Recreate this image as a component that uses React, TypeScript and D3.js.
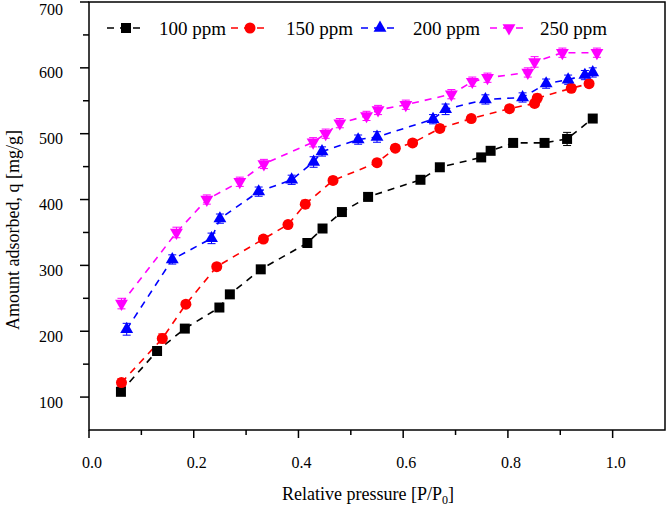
import React from "react";
import * as d3 from "d3";

const W = 666;
const H = 510;

const xTicksMajor = [0, 0.2, 0.4, 0.6, 0.8, 1.0];
const xTicksMinor = [0.1, 0.3, 0.5, 0.7, 0.9];
const xTickLabels = ["0.0", "0.2", "0.4", "0.6", "0.8", "1.0"];
const yTicksMajor = [100, 200, 300, 400, 500, 600, 700];
const yTicksMinor = [150, 250, 350, 450, 550, 650];

const seriesNames = ["100 ppm", "150 ppm", "200 ppm", "250 ppm"];
const seriesColors = ["#000000", "#ff0000", "#0000ff", "#ff00ff"];
const seriesSymbols = ["square", "circle", "triangle", "down"];

const x100 = [0.061, 0.130, 0.183, 0.249, 0.269, 0.328, 0.417, 0.446, 0.483, 0.533, 0.633, 0.670, 0.749, 0.767, 0.810, 0.870, 0.913, 0.962];
const y100 = [108, 170, 204, 236, 256, 294, 334, 356, 381, 404, 430, 449, 464, 474, 486, 486, 492, 523];
const e100 = [3, 3, 3, 3, 4, 3, 4, 3, 3, 3, 4, 3, 4, 3, 3, 4, 10, 4];

const x150 = [0.062, 0.140, 0.185, 0.244, 0.333, 0.380, 0.413, 0.466, 0.550, 0.585, 0.618, 0.670, 0.730, 0.803, 0.851, 0.856, 0.921, 0.955];
const y150 = [122, 189, 241, 298, 340, 362, 393, 429, 456, 478, 486, 508, 523, 538, 546, 554, 569, 576];
const e150 = [6, 7, 5, 5, 5, 5, 6, 5, 5, 5, 5, 5, 5, 5, 5, 6, 5, 5];

const x200 = [0.072, 0.159, 0.234, 0.250, 0.324, 0.387, 0.429, 0.445, 0.514, 0.550, 0.657, 0.681, 0.757, 0.828, 0.873, 0.915, 0.947, 0.962];
const y200 = [203, 309, 341, 371, 412, 430, 457, 473, 491, 495, 522, 537, 552, 555, 576, 582, 589, 593];
const e200 = [9, 7, 8, 7, 7, 7, 8, 7, 7, 8, 7, 8, 7, 7, 7, 7, 7, 7];

const x250 = [0.062, 0.167, 0.225, 0.288, 0.334, 0.428, 0.452, 0.479, 0.530, 0.552, 0.605, 0.692, 0.732, 0.761, 0.838, 0.851, 0.904, 0.970];
const y250 = [242, 350, 400, 427, 454, 487, 500, 516, 527, 536, 544, 560, 579, 585, 593, 609, 623, 623];
const e250 = [8, 8, 7, 7, 7, 7, 7, 7, 7, 7, 7, 7, 7, 7, 7, 8, 7, 7];

const seriesX = [x100, x150, x200, x250];
const seriesY = [y100, y150, y200, y250];
const seriesE = [e100, e150, e200, e250];

const legendX = [107, 231, 361, 490];
const legendTextX = [159, 286, 413, 540];

const FONT = "'Liberation Serif', 'Times New Roman', serif";

const xScale = d3.scaleLinear().domain([0, 1.1]).range([89, 665]);
const yScale = d3.scaleLinear().domain([50, 700]).range([430, 2]);

function symbolPath(kind: string): { d: string; rot: number } {
  if (kind === "square") return { d: d3.symbol(d3.symbolSquare, 100)() as string, rot: 0 };
  if (kind === "circle") return { d: d3.symbol(d3.symbolCircle, 95)() as string, rot: 0 };
  if (kind === "triangle") return { d: d3.symbol(d3.symbolTriangle, 72)() as string, rot: 0 };
  return { d: d3.symbol(d3.symbolTriangle, 72)() as string, rot: 180 };
}

function Marker({ cx, cy, kind, color }: { cx: number; cy: number; kind: string; color: string }) {
  const s = symbolPath(kind);
  return <path d={s.d} transform={`translate(${cx},${cy}) rotate(${s.rot})`} fill={color} />;
}

export default function App() {
  const line = d3
    .line<[number, number]>()
    .x((d) => xScale(d[0]))
    .y((d) => yScale(d[1]));

  const legendY = 28;

  return (
    <svg width={W} height={H} style={{ position: "absolute", left: 0, top: 0, background: "#fff" }}>
      <rect x={0} y={0} width={W} height={H} fill="#fff" />
      {/* series lines */}
      {seriesNames.map((name, si) => {
        const pts = seriesX[si].map((xv, i) => [xv, seriesY[si][i]] as [number, number]);
        return (
          <path
            key={"l" + name}
            d={line(pts) as string}
            fill="none"
            stroke={seriesColors[si]}
            strokeWidth={1.6}
            strokeDasharray="7,6"
          />
        );
      })}
      {/* error bars */}
      {seriesNames.map((name, si) =>
        seriesX[si].map((xv, i) => {
          const cx = xScale(xv);
          const y1 = yScale(seriesY[si][i] - seriesE[si][i]);
          const y2 = yScale(seriesY[si][i] + seriesE[si][i]);
          return (
            <g key={"e" + name + i} stroke={seriesColors[si]} strokeWidth={1}>
              <line x1={cx} x2={cx} y1={y1} y2={y2} />
              <line x1={cx - 4} x2={cx + 4} y1={y1} y2={y1} />
              <line x1={cx - 4} x2={cx + 4} y1={y2} y2={y2} />
            </g>
          );
        })
      )}
      {/* markers */}
      {seriesNames.map((name, si) =>
        seriesX[si].map((xv, i) => (
          <Marker
            key={"m" + name + i}
            cx={xScale(xv)}
            cy={yScale(seriesY[si][i])}
            kind={seriesSymbols[si]}
            color={seriesColors[si]}
          />
        ))
      )}
      {/* frame */}
      <rect
        x={xScale(0)}
        y={yScale(700)}
        width={xScale(1.1) - xScale(0)}
        height={yScale(50) - yScale(700)}
        fill="none"
        stroke="#000"
        strokeWidth={1.5}
      />
      {/* x ticks */}
      {xTicksMajor.map((t, i) => (
        <g key={"xt" + t}>
          <line x1={xScale(t)} x2={xScale(t)} y1={430} y2={438} stroke="#000" strokeWidth={1.5} />
          <text
            x={xScale(t) + 3}
            y={462}
            textAnchor="middle"
            dominantBaseline="central"
            fontFamily={FONT}
            fontSize={16}
            fill="#000"
          >
            {xTickLabels[i]}
          </text>
        </g>
      ))}
      {xTicksMinor.map((t) => (
        <line key={"xm" + t} x1={xScale(t)} x2={xScale(t)} y1={430} y2={435} stroke="#000" strokeWidth={1.5} />
      ))}
      {/* y ticks */}
      {yTicksMajor.map((t) => (
        <g key={"yt" + t}>
          <line x1={80} x2={89} y1={yScale(t)} y2={yScale(t)} stroke="#000" strokeWidth={1.5} />
          <text
            x={63}
            y={Math.max(yScale(t) + 5, 9)}
            textAnchor="end"
            dominantBaseline="central"
            fontFamily={FONT}
            fontSize={16}
            fill="#000"
          >
            {t}
          </text>
        </g>
      ))}
      {yTicksMinor.map((t) => (
        <line key={"ym" + t} x1={83} x2={89} y1={yScale(t)} y2={yScale(t)} stroke="#000" strokeWidth={1.5} />
      ))}
      {/* axis titles */}
      <text
        x={368}
        y={494}
        textAnchor="middle"
        dominantBaseline="central"
        fontFamily={FONT}
        fontSize={18}
        fill="#000"
      >
        Relative pressure [P/P
        <tspan fontSize={12} dy={6}>0</tspan>
        <tspan dy={-6}>]</tspan>
      </text>
      <text
        transform={`translate(13,230) rotate(-90)`}
        textAnchor="middle"
        dominantBaseline="central"
        fontFamily={FONT}
        fontSize={18}
        fill="#000"
      >
        Amount adsorbed, q [mg/g]
      </text>
      {/* legend */}
      {seriesNames.map((name, si) => {
        const x0 = legendX[si];
        const x1 = x0 + 38;
        return (
          <g key={"lg" + name}>
            <line
              x1={x0}
              x2={x1}
              y1={legendY}
              y2={legendY}
              stroke={seriesColors[si]}
              strokeWidth={1.6}
              strokeDasharray="7,6"
              strokeDashoffset={0}
            />
            <Marker cx={(x0 + x1) / 2} cy={legendY} kind={seriesSymbols[si]} color={seriesColors[si]} />
            <text
              x={legendTextX[si]}
              y={legendY}
              dominantBaseline="central"
              fontFamily={FONT}
              fontSize={19}
              fill="#000"
            >
              {name}
            </text>
          </g>
        );
      })}
    </svg>
  );
}
